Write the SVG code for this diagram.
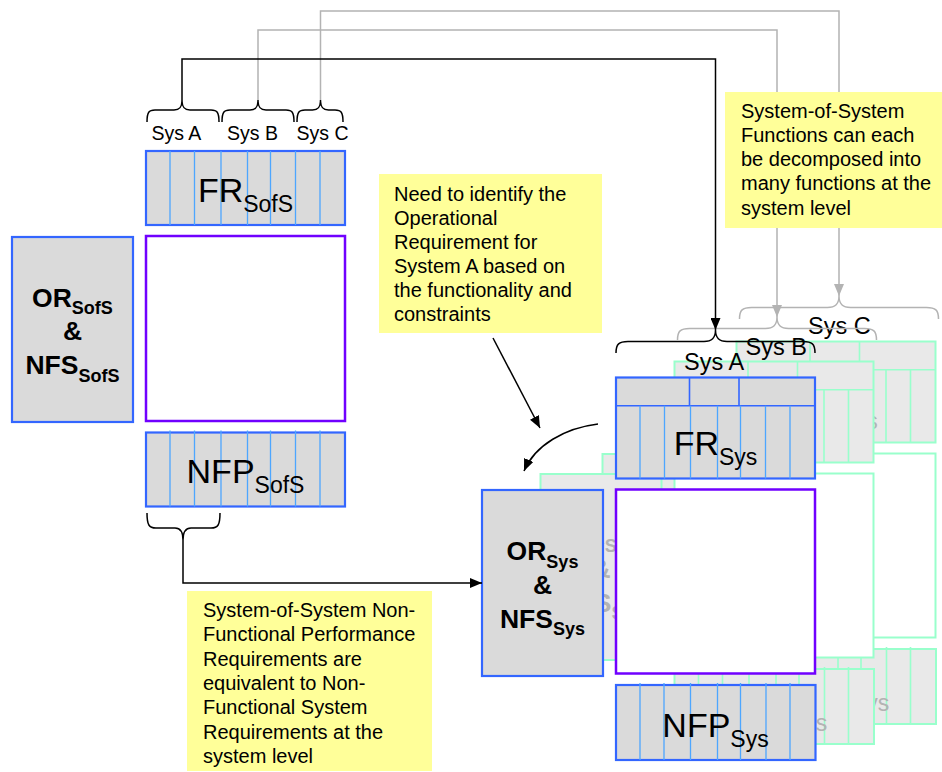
<svg xmlns="http://www.w3.org/2000/svg" width="942" height="772" viewBox="0 0 942 772">
  <style>
    text { font-family: "Liberation Sans", Arial, sans-serif; fill: #000; }
    .box { fill: #dadada; stroke: #3366ff; stroke-width: 2.2; }
    .row { stroke: #3366ff; stroke-width: 1.6; fill: none; }
    .div { stroke: #4da6ff; stroke-width: 1.3; fill: none; }
    .mid { fill: #fff; stroke: #7000ff; stroke-width: 2.5; }
    .ghost .box { fill: #e9e9e9; stroke: #99ffcc; stroke-width: 2; }
    .ghost .row, .ghost .div { stroke: #99ffcc; stroke-width: 1.6; }
    .ghost .mid { fill: #fff; stroke: #99ffcc; stroke-width: 2; }
    .ghost text { fill: #b3b3b3; }
    .big { font-size: 34px; text-anchor: middle; }
    .sm { font-size: 23px; }
    .bt { font-size: 26.5px; font-weight: bold; text-anchor: middle; }
    .bs { font-size: 18px; }
    .lbl { font-size: 19.5px; }
    .lblr { font-size: 23.5px; }
    .note rect { fill: #ffff99; }
    .note text { font-size: 20px; }
    .brace { fill: none; stroke: #000; stroke-width: 1.5; }
    .gbrace { fill: none; stroke: #b3b3b3; stroke-width: 1.5; }
    .ln { fill: none; stroke: #000; stroke-width: 1.5; }
    .gln { fill: none; stroke: #b3b3b3; stroke-width: 1.5; }
  </style>
  <defs>
    <marker id="ah" viewBox="0 0 12 10" refX="12" refY="5" markerWidth="12" markerHeight="10" markerUnits="userSpaceOnUse" orient="auto">
      <path d="M0,0 L12,5 L0,10 z" fill="#000"/>
    </marker>
    <marker id="ahg" viewBox="0 0 12 10" refX="12" refY="5" markerWidth="12" markerHeight="10" markerUnits="userSpaceOnUse" orient="auto">
      <path d="M0,0 L12,5 L0,10 z" fill="#b3b3b3"/>
    </marker>
  </defs>

  <!-- System-of-System level stack -->
  <g id="fr-sofs">
    <rect class="box" x="146" y="151" width="199" height="74"/>
    <path class="div" d="M170,151V225 M194.5,151V225 M221,151V225 M247.5,151V225 M270.5,151V225 M295.5,151V225 M320,151V225"/>
    <text class="big" x="245.5" y="201.5">FR<tspan class="sm" dy="10">SofS</tspan></text>
  </g>
  <g id="or-sofs">
    <rect class="box" x="12" y="237" width="121" height="185"/>
    <text class="bt" x="72.5" y="307">OR<tspan class="bs" dy="6.5">SofS</tspan></text>
    <text class="bt" x="72.5" y="339.5">&amp;</text>
    <text class="bt" x="72.5" y="374">NFS<tspan class="bs" dy="7.5">SofS</tspan></text>
  </g>
  <g id="core-sofs">
    <rect class="mid" x="146" y="236" width="199" height="185"/>
  </g>
  <g id="nfp-sofs">
    <rect class="box" x="146" y="432.5" width="199" height="74"/>
    <path class="div" d="M170,430.5V506.5 M194.5,430.5V506.5 M221,430.5V506.5 M247.5,430.5V506.5 M270.5,430.5V506.5 M295.5,430.5V506.5 M320,430.5V506.5"/>
    <text class="big" x="245.5" y="483">NFP<tspan class="sm" dy="10">SofS</tspan></text>
  </g>

  <!-- System C (back) -->
  <g id="sys-c-stack" class="ghost" transform="translate(120.5,-36)">
    <rect class="box" x="482" y="490" width="121" height="186"/>
    <text class="bt" x="542.5" y="560">OR<tspan class="bs" dy="7.5">Sys</tspan></text>
    <text class="bt" x="542.5" y="593.5">&amp;</text>
    <text class="bt" x="542.5" y="627.5">NFS<tspan class="bs" dy="7">Sys</tspan></text>
    <rect class="box" x="616" y="377.5" width="199" height="101"/>
    <path class="row" d="M616,405.7H815 M689.5,377.5V405.7 M739,377.5V405.7"/>
    <path class="div" d="M640,405.7V478.5 M664.5,405.7V478.5 M690.5,405.7V478.5 M717.5,405.7V478.5 M740.5,405.7V478.5 M765.5,405.7V478.5 M790,405.7V478.5"/>
    <text class="big" x="715.5" y="455">FR<tspan class="sm" dy="9.5">Sys</tspan></text>
    <rect class="mid" x="616" y="489.5" width="199" height="184"/>
    <rect class="box" x="616" y="685" width="199.5" height="75"/>
    <path class="div" d="M640,683V760 M664,683V760 M690.5,683V760 M717.5,683V760 M740.5,683V760 M766,683V760 M790,683V760"/>
    <text class="big" x="715.5" y="736.5">NFP<tspan class="sm" dy="10">Sys</tspan></text>
  </g>

  <!-- System B (middle) -->
  <g id="sys-b-stack" class="ghost" transform="translate(58.5,-16)">
    <rect class="box" x="482" y="490" width="121" height="186"/>
    <text class="bt" x="542.5" y="560">OR<tspan class="bs" dy="7.5">Sys</tspan></text>
    <text class="bt" x="542.5" y="593.5">&amp;</text>
    <text class="bt" x="542.5" y="627.5">NFS<tspan class="bs" dy="7">Sys</tspan></text>
    <rect class="box" x="616" y="377.5" width="199" height="101"/>
    <path class="row" d="M616,405.7H815 M689.5,377.5V405.7 M739,377.5V405.7"/>
    <path class="div" d="M640,405.7V478.5 M664.5,405.7V478.5 M690.5,405.7V478.5 M717.5,405.7V478.5 M740.5,405.7V478.5 M765.5,405.7V478.5 M790,405.7V478.5"/>
    <text class="big" x="715.5" y="455">FR<tspan class="sm" dy="9.5">Sys</tspan></text>
    <rect class="mid" x="616" y="489.5" width="199" height="184"/>
    <rect class="box" x="616" y="685" width="199.5" height="75"/>
    <path class="div" d="M640,683V760 M664,683V760 M690.5,683V760 M717.5,683V760 M740.5,683V760 M766,683V760 M790,683V760"/>
    <text class="big" x="715.5" y="736.5">NFP<tspan class="sm" dy="10">Sys</tspan></text>
  </g>

  <!-- braces and system labels -->
  <g id="sofs-braces">
    <path class="brace" d="M147,122 C147,112 149,110 155,110 L174,110 C179,110 182,108 182,100 C182,108 185,110 190,110 L211,110 C217,110 219,112 219,122"/>
    <path class="brace" d="M222,122 C222,112 224,110 230,110 L250,110 C255,110 258,108 258,100 C258,108 261,110 266,110 L286,110 C292,110 294,112 294,122"/>
    <path class="brace" d="M297,122 C297,112 299,110 305,110 L312.5,110 C317.5,110 320.5,108 320.5,100 C320.5,108 323.5,110 328.5,110 L335,110 C341,110 343,112 343,122"/>
    <text class="lbl" x="151.5" y="140">Sys A</text>
    <text class="lbl" x="227" y="140">Sys B</text>
    <text class="lbl" x="296.5" y="140">Sys C</text>
    <path class="brace" d="M147,513 C147,525 149,528 156,528 L175,528 C180,528 183,531 183,540 C183,531 186,528 191,528 L211,528 C218,528 220,525 220,513"/>
  </g>
  <g id="sys-c-brace" transform="translate(123.5,-34)">
    <path class="gbrace" d="M616,353 C616,344 619,341.5 628,341.5 L704,341.5 C711,341.5 715.5,339 715.5,330 C715.5,339 720,341.5 727,341.5 L803,341.5 C812,341.5 815,344 815,353"/>
  </g>
  <text class="lblr" x="808" y="334" fill="#b3b3b3">Sys C</text>
  <g id="sys-b-brace" transform="translate(61.5,-13)">
    <path class="gbrace" d="M616,353 C616,344 619,341.5 628,341.5 L704,341.5 C711,341.5 715.5,339 715.5,330 C715.5,339 720,341.5 727,341.5 L803,341.5 C812,341.5 815,344 815,353"/>
  </g>
  <text class="lblr" x="745.5" y="355" fill="#b3b3b3">Sys B</text>
  <g id="sys-a-brace">
    <path class="brace" d="M616,353 C616,344 619,341.5 628,341.5 L704,341.5 C711,341.5 715.5,339 715.5,330 C715.5,339 720,341.5 727,341.5 L803,341.5 C812,341.5 815,344 815,353"/>
    <text class="lblr" x="684" y="370">Sys A</text>
  </g>

  <!-- System A (front) -->
  <g id="or-sys">
    <rect class="box" x="482" y="490" width="121" height="186"/>
    <text class="bt" x="542.5" y="560">OR<tspan class="bs" dy="7.5">Sys</tspan></text>
    <text class="bt" x="542.5" y="593.5">&amp;</text>
    <text class="bt" x="542.5" y="627.5">NFS<tspan class="bs" dy="7">Sys</tspan></text>
  </g>
  <g id="fr-sys">
    <rect class="box" x="616" y="377.5" width="199" height="101"/>
    <path class="row" d="M616,405.7H815 M689.5,377.5V405.7 M739,377.5V405.7"/>
    <path class="div" d="M640,405.7V478.5 M664.5,405.7V478.5 M690.5,405.7V478.5 M717.5,405.7V478.5 M740.5,405.7V478.5 M765.5,405.7V478.5 M790,405.7V478.5"/>
    <text class="big" x="715.5" y="455">FR<tspan class="sm" dy="9.5">Sys</tspan></text>
  </g>
  <g id="core-sys">
    <rect class="mid" x="616" y="489.5" width="199" height="184"/>
  </g>
  <g id="nfp-sys">
    <rect class="box" x="616" y="685" width="199.5" height="75"/>
    <path class="div" d="M640,683V760 M664,683V760 M690.5,683V760 M717.5,683V760 M740.5,683V760 M766,683V760 M790,683V760"/>
    <text class="big" x="715.5" y="736.5">NFP<tspan class="sm" dy="10">Sys</tspan></text>
  </g>

  <!-- connectors -->
  <g id="connectors">
    <path class="gln" d="M320.5,100 V11 H839 V296" marker-end="url(#ahg)"/>
    <path class="gln" d="M258,100 V30 H777 V317" marker-end="url(#ahg)"/>
    <path class="ln" d="M182,100 V59 H715.5 V330" marker-end="url(#ah)"/>
    <path class="ln" d="M183,540 V583 H482" marker-end="url(#ah)"/>
    <path class="ln" d="M493,338 L540,428" marker-end="url(#ah)"/>
    <path class="ln" d="M598,424 C565,428 535,445 524,471" marker-end="url(#ah)"/>
  </g>

  <!-- notes -->
  <g id="note-decompose" class="note">
    <rect x="725" y="92" width="217" height="136"/>
    <text x="741" y="117.5">System-of-System</text>
    <text x="741" y="141.8">Functions can each</text>
    <text x="741" y="166.1">be decomposed into</text>
    <text x="741" y="190.4">many functions at the</text>
    <text x="741" y="214.7">system level</text>
  </g>
  <g id="note-identify" class="note">
    <rect x="379" y="174" width="223" height="159"/>
    <text x="394" y="200.7">Need to identify the</text>
    <text x="394" y="224.8">Operational</text>
    <text x="394" y="248.9">Requirement for</text>
    <text x="394" y="273">System A based on</text>
    <text x="394" y="297.1">the functionality and</text>
    <text x="394" y="321.2">constraints</text>
  </g>
  <g id="note-equivalent" class="note">
    <rect x="187" y="591" width="245" height="180"/>
    <text x="203" y="617">System-of-System Non-</text>
    <text x="203" y="641.3">Functional Performance</text>
    <text x="203" y="665.6">Requirements are</text>
    <text x="203" y="689.9">equivalent to Non-</text>
    <text x="203" y="714.2">Functional System</text>
    <text x="203" y="738.5">Requirements at the</text>
    <text x="203" y="762.8">system level</text>
  </g>
</svg>
